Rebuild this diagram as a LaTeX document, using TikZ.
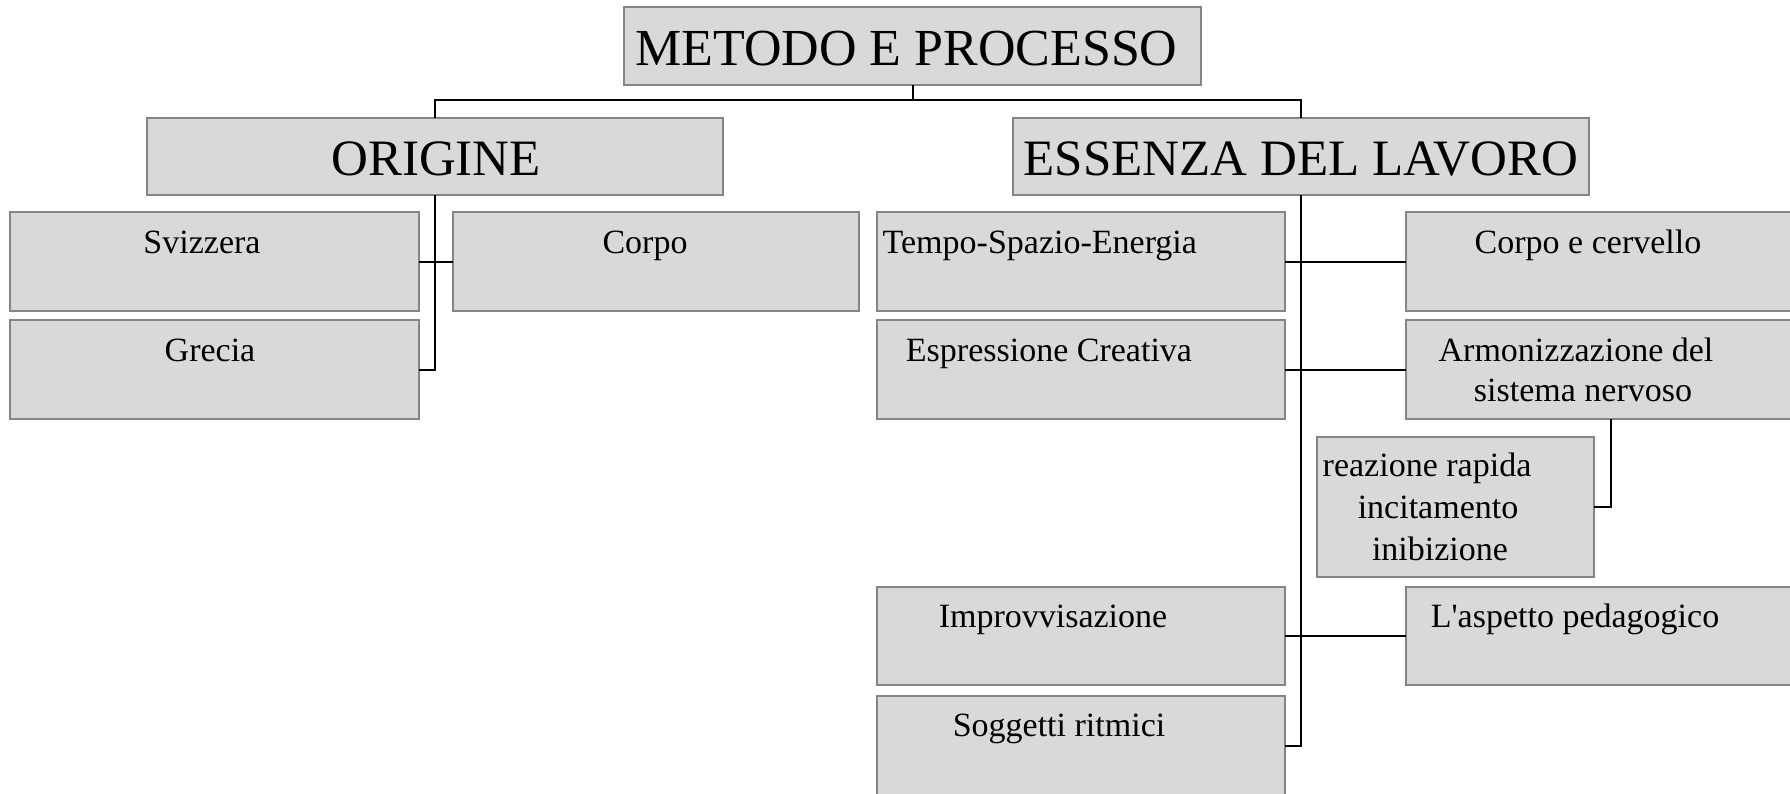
\documentclass[tikz,border=0pt]{standalone}
\usepackage{fontspec}
\setmainfont{Liberation Serif}
\definecolor{boxfill}{HTML}{D9D9D9}
\definecolor{boxline}{HTML}{858585}
\begin{document}
\begin{tikzpicture}[x=1pt,y=-1pt,
  box/.style={draw=boxline, fill=boxfill, line width=2pt, inner sep=0pt, outer sep=0pt, rectangle},
  big/.style={inner sep=0pt, anchor=base, font=\fontsize{51}{60}\selectfont},
  sm/.style={inner sep=0pt, anchor=base, font=\fontsize{34}{40}\selectfont},
  conn/.style={draw=black, line width=2pt}]
\useasboundingbox (0,0) rectangle (1790,793);
\clip (0,0) rectangle (1790,793);
% top level
\node[box, minimum width=577pt, minimum height=78pt] (metodo) at (912.5,45.5) {};
\node[big, font=\fontsize{52}{60}\selectfont] (tmetodo) at (906.5,65) {METODO E PROCESSO};
\node[box, minimum width=576pt, minimum height=77pt] (origine) at (435,156.5) {};
\node[big] (torigine) at (436,175) {ORIGINE};
\node[box, minimum width=576pt, minimum height=77pt] (essenza) at (1301,156.5) {};
\node[big] (tessenza) at (1301,175) {ESSENZA DEL LAVORO};
% origine children
\node[box, minimum width=409pt, minimum height=99pt] (svizzera) at (214.5,261.5) {};
\node[sm] (tsvizzera) at (202,253) {Svizzera};
\node[box, minimum width=406pt, minimum height=99pt] (corpo) at (656,261.5) {};
\node[sm] (tcorpo) at (645,253) {Corpo};
\node[box, minimum width=409pt, minimum height=99pt] (grecia) at (214.5,369.5) {};
\node[sm] (tgrecia) at (210,361) {Grecia};
% essenza children
\node[box, minimum width=408pt, minimum height=99pt] (tempo) at (1081,261.5) {};
\node[sm, anchor=base west] (ttempo) at (882.5,253) {Tempo-Spazio-Energia};
\node[box, minimum width=409pt, minimum height=99pt] (corpoc) at (1610.5,261.5) {};
\node[sm] (tcorpoc) at (1588,253) {Corpo e cervello};
\node[box, minimum width=408pt, minimum height=99pt] (espr) at (1081,369.5) {};
\node[sm] (tespr) at (1049,361) {Espressione Creativa};
\node[box, minimum width=409pt, minimum height=99pt] (armon) at (1610.5,369.5) {};
\node[sm] (tarmon1) at (1576,361) {Armonizzazione del};
\node[sm] (tarmon2) at (1583,401) {sistema nervoso};
\node[box, minimum width=277pt, minimum height=140pt] (reaz) at (1455.5,507) {};
\node[sm] (treaz1) at (1427,476) {reazione rapida};
\node[sm] (treaz2) at (1438,518) {incitamento};
\node[sm] (treaz3) at (1440,560) {inibizione};
\node[box, minimum width=408pt, minimum height=98pt] (impro) at (1081,636) {};
\node[sm] (timpro) at (1053,627) {Improvvisazione};
\node[box, minimum width=409pt, minimum height=98pt] (asp) at (1610.5,636) {};
\node[sm] (tasp) at (1575,627) {L\textquotesingle aspetto pedagogico};
\node[box, minimum width=408pt, minimum height=99pt] (sogg) at (1081,745.5) {};
\node[sm] (tsogg) at (1059,736) {Soggetti ritmici};
% connectors
\coordinate (hub) at (912.5,100);
\draw[conn] (metodo.south) -- (hub);
\draw[conn] (origine.north) |- (hub) -| (essenza.north);
\draw[conn] (grecia.east) -| (origine.south);
\draw[conn] (svizzera.east) -- (corpo.west);
\draw[conn] (sogg.east) -| (essenza.south);
\draw[conn] (tempo.east) -- (corpoc.west);
\draw[conn] (espr.east) -- (armon.west);
\draw[conn] (impro.east) -- (asp.west);
\draw[conn] (reaz.east) -| (armon.south);
\end{tikzpicture}
\end{document}
